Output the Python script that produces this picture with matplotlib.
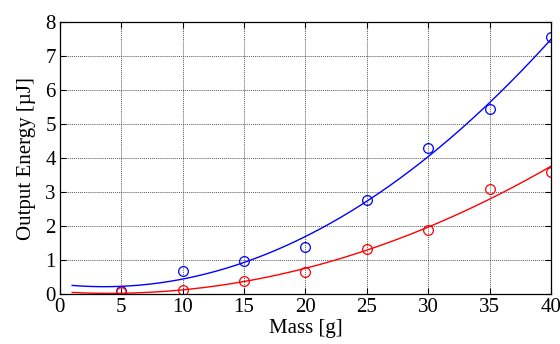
import numpy as np
import matplotlib.pyplot as plt

plt.rcParams['font.family'] = ['Liberation Serif', 'DejaVu Serif']

mass = [5, 10, 15, 20, 25, 30, 35, 40]
energy_blue = [0.1, 0.69, 0.98, 1.39, 2.77, 4.29, 5.43, 7.55]
energy_red = [0.05, 0.12, 0.4, 0.64, 1.32, 1.88, 3.09, 3.6]

# quadratic fits drawn from x=1 to 40
xfit = np.linspace(1, 40, 200)
pb = np.polyfit(mass, energy_blue, 2)
pr = np.polyfit(mass, energy_red, 2)

fig = plt.figure(figsize=(5.6, 3.44), dpi=100)
ax = fig.add_axes([0.107, 0.145, 0.877, 0.791])

ax.plot(xfit, np.polyval(pb, xfit), color='blue', lw=1)
ax.plot(xfit, np.polyval(pr, xfit), color='red', lw=1)
ax.plot(mass, energy_blue, 'o', mfc='none', mec='blue', ms=7, mew=0.9)
ax.plot(mass, energy_red, 'o', mfc='none', mec='red', ms=7, mew=0.9)

ax.set_xlim(0, 40)
ax.set_ylim(0, 8)
ax.set_xticks(range(0, 41, 5))
ax.set_yticks(range(0, 9))
ax.grid(True, color='0.35', linestyle=(0, (1, 1)), linewidth=0.7)
ax.tick_params(direction='in', top=True, right=True, length=4, labelsize=15, pad=3)
for s in ax.spines.values():
    s.set_linewidth(0.9)

ax.set_xlabel('Mass [g]', fontsize=15, labelpad=1)
ax.set_ylabel('Output Energy [µJ]', fontsize=15, labelpad=7)

plt.savefig('out.png', dpi=100)
plt.close()
